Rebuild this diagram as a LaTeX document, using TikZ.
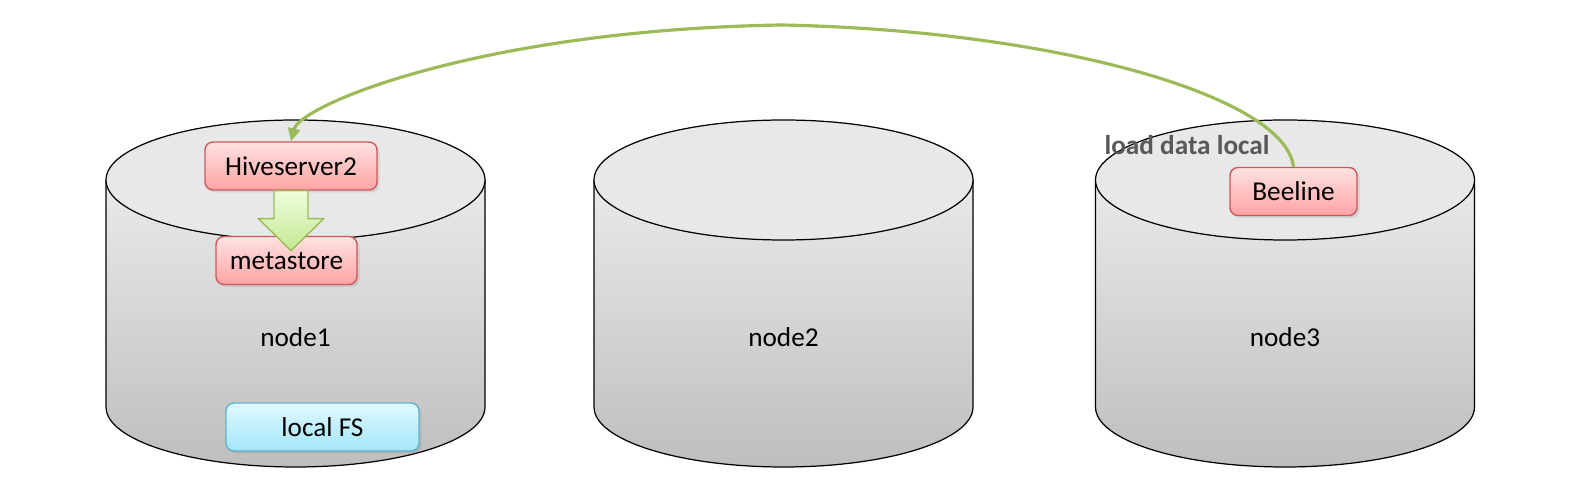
\documentclass[tikz,border=0pt]{standalone}
\usepackage{fontspec}
\setmainfont{Carlito}
\usetikzlibrary{arrows.meta,shadows}
\definecolor{diskTop}{HTML}{EAEAEA}
\definecolor{diskBot}{HTML}{BEBEBE}
\definecolor{diskLid}{HTML}{E8E8E8}
\definecolor{procTop}{HTML}{FFE2E2}
\definecolor{procBot}{HTML}{FFA3A3}
\definecolor{procLine}{HTML}{CC5A5A}
\definecolor{fsTop}{HTML}{E0F9FF}
\definecolor{fsBot}{HTML}{A3E6FA}
\definecolor{fsLine}{HTML}{5BB5CF}
\definecolor{flowTop}{HTML}{EEFCDC}
\definecolor{flowBot}{HTML}{C3EA92}
\definecolor{flowLine}{HTML}{9BBB59}
\definecolor{noteText}{HTML}{595959}
\begin{document}
\begin{tikzpicture}[x=0.2mm, y=0.2mm,
      txt/.style={font=\fontsize{15.5}{18}\selectfont},
      diskbody/.style={draw=black, line width=0.7pt, top color=diskTop, bottom color=diskBot},
      disklid/.style={draw=black, line width=0.7pt, fill=diskLid},
      proc/.style={draw=procLine, line width=0.8pt, rounded corners=1.6mm,
                   top color=procTop, bottom color=procBot, minimum height=9.6mm,
                   inner sep=0pt, txt,
                   drop shadow={opacity=0.2, shadow xshift=0.5mm, shadow yshift=-0.5mm}},
      fsbox/.style={proc, draw=fsLine, top color=fsTop, bottom color=fsBot},
      note/.style={font=\fontsize{15.5}{18}\selectfont\bfseries, text=noteText, inner sep=0pt},
      bigflow/.style={draw=flowLine, line width=0.8pt, top color=flowTop, bottom color=flowBot},
      link/.style={draw=flowLine, line width=1.8pt, -{Triangle[length=2.6mm, width=2.4mm]}}
    ]
    \useasboundingbox (0,0) rectangle (1569,497);

    % Disks
    \foreach \cx/\lab in {295.5/node1, 783.5/node2, 1285/node3}{
      \draw[diskbody] (\cx-189.5,317) -- (\cx-189.5,90)
        arc[start angle=180, end angle=360, x radius=37.9mm, y radius=12mm]
        -- (\cx+189.5,317);
      \draw[disklid] (\cx,317) ellipse[x radius=37.9mm, y radius=12mm];
      \node[txt] (\lab) at (\cx,160) {\lab};
    }

    % Processes
    \node[proc, minimum width=34.4mm] (hive) at (291,331) {Hiveserver2};
    \node[proc, minimum width=28.2mm] (meta) at (286.5,236.5) {metastore};
    \node[fsbox, minimum width=38.6mm] (fs) at (322.5,70) {local FS};
    \node[proc, minimum width=25.4mm] (beeline) at (1293.5,305.5) {Beeline};
    \node[note] (cmd) at (1187,352) {load data local};

    % Hiveserver2 to metastore
    \draw[bigflow, shift={(hive.south)}] (-17,0) -- (17,0) -- (17,-28) -- (32.5,-28)
      -- (0,-60) -- (-32.5,-28) -- (-17,-28) -- cycle;

    % Beeline to Hiveserver2
    \coordinate (apex) at (781,472);
    \draw[link] (beeline.north) .. controls (1285,402) and (1050,467) .. (apex)
      .. controls (480,467) and (300,392) .. (hive.north);
  \end{tikzpicture}
\end{document}
